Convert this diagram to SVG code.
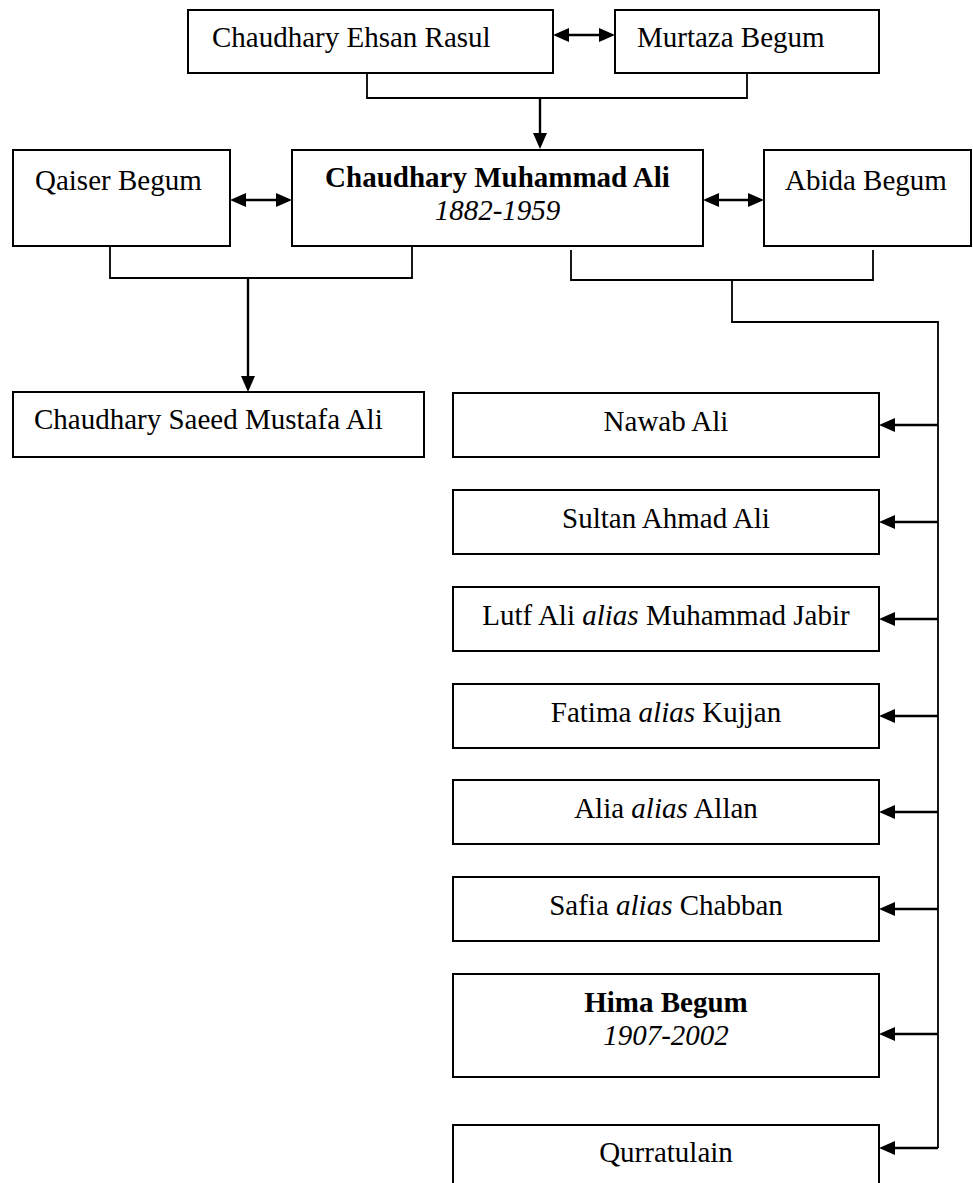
<svg xmlns="http://www.w3.org/2000/svg" width="973" height="1183" viewBox="0 0 973 1183">
  <style>
    .box { fill: #ffffff; stroke: #000000; stroke-width: 2; }
    .t { font-family: "Liberation Serif", "Times New Roman", serif; font-size: 29px; fill: #000000; }
    .c { text-anchor: middle; }
    .b { font-weight: bold; }
    .i { font-style: italic; }
    .link { fill: none; stroke: #000000; stroke-width: 2.4; }
    .bracket { fill: none; stroke: #000000; stroke-width: 1.8; }
  </style>
  <defs>
    <marker id="arrow" markerUnits="userSpaceOnUse" markerWidth="17" markerHeight="15" refX="10" refY="7" orient="auto-start-reverse">
      <path d="M0,0 L16,7 L0,14 z" fill="#000000"/>
    </marker>
  </defs>

  <rect width="973" height="1183" fill="#ffffff"/>

  <!-- connectors -->
  <g id="connectors">
    <!-- spouse links -->
    <line class="link" x1="559" y1="35" x2="609" y2="35" marker-start="url(#arrow)" marker-end="url(#arrow)"/>
    <line class="link" x1="236" y1="200" x2="286" y2="200" marker-start="url(#arrow)" marker-end="url(#arrow)"/>
    <line class="link" x1="709" y1="200" x2="758" y2="200" marker-start="url(#arrow)" marker-end="url(#arrow)"/>

    <!-- parents of Chaudhary Muhammad Ali -->
    <path class="bracket" d="M367,73 V98 H747 V73"/>
    <line class="link" x1="540" y1="98" x2="540" y2="143" marker-end="url(#arrow)"/>

    <!-- Qaiser Begum family -->
    <path class="bracket" d="M110,247 V278 H412 V247"/>
    <line class="link" x1="248" y1="278" x2="248" y2="386" marker-end="url(#arrow)"/>

    <!-- Abida Begum family -->
    <path class="bracket" d="M571,250 V280 H873 V250"/>
    <path class="bracket" d="M732,280 V322 H938 V1148"/>
    <line class="link" x1="938" y1="425" x2="885" y2="425" marker-end="url(#arrow)"/>
    <line class="link" x1="938" y1="522" x2="885" y2="522" marker-end="url(#arrow)"/>
    <line class="link" x1="938" y1="619" x2="885" y2="619" marker-end="url(#arrow)"/>
    <line class="link" x1="938" y1="716" x2="885" y2="716" marker-end="url(#arrow)"/>
    <line class="link" x1="938" y1="812" x2="885" y2="812" marker-end="url(#arrow)"/>
    <line class="link" x1="938" y1="909" x2="885" y2="909" marker-end="url(#arrow)"/>
    <line class="link" x1="938" y1="1034" x2="885" y2="1034" marker-end="url(#arrow)"/>
    <line class="link" x1="938" y1="1148" x2="885" y2="1148" marker-end="url(#arrow)"/>
  </g>

  <!-- nodes -->
  <g id="ehsan-rasul">
    <rect class="box" x="188" y="10" width="365" height="63"/>
    <text class="t" x="212" y="47">Chaudhary Ehsan Rasul</text>
  </g>
  <g id="murtaza-begum">
    <rect class="box" x="615" y="10" width="264" height="63"/>
    <text class="t" x="637" y="47">Murtaza Begum</text>
  </g>

  <g id="qaiser-begum">
    <rect class="box" x="13" y="150" width="217" height="96"/>
    <text class="t" x="35" y="190">Qaiser Begum</text>
  </g>
  <g id="muhammad-ali">
    <rect class="box" x="292" y="150" width="411" height="96"/>
    <text class="t c b" x="497.5" y="187">Chaudhary Muhammad Ali</text>
    <text class="t c i" x="497.5" y="220">1882-1959</text>
  </g>
  <g id="abida-begum">
    <rect class="box" x="764" y="150" width="207" height="96"/>
    <text class="t" x="785" y="190">Abida Begum</text>
  </g>

  <g id="saeed-mustafa-ali">
    <rect class="box" x="13" y="392" width="411" height="65"/>
    <text class="t" x="34" y="429">Chaudhary Saeed Mustafa Ali</text>
  </g>

  <g id="nawab-ali">
    <rect class="box" x="453" y="393" width="426" height="64"/>
    <text class="t c" x="666" y="431">Nawab Ali</text>
  </g>
  <g id="sultan-ahmad-ali">
    <rect class="box" x="453" y="490" width="426" height="64"/>
    <text class="t c" x="666" y="528">Sultan Ahmad Ali</text>
  </g>
  <g id="lutf-ali">
    <rect class="box" x="453" y="587" width="426" height="64"/>
    <text class="t c" x="666" y="625">Lutf Ali <tspan class="i">alias</tspan> Muhammad Jabir</text>
  </g>
  <g id="fatima">
    <rect class="box" x="453" y="684" width="426" height="64"/>
    <text class="t c" x="666" y="722">Fatima <tspan class="i">alias</tspan> Kujjan</text>
  </g>
  <g id="alia">
    <rect class="box" x="453" y="780" width="426" height="64"/>
    <text class="t c" x="666" y="818">Alia <tspan class="i">alias</tspan> Allan</text>
  </g>
  <g id="safia">
    <rect class="box" x="453" y="877" width="426" height="64"/>
    <text class="t c" x="666" y="915">Safia <tspan class="i">alias</tspan> Chabban</text>
  </g>
  <g id="hima-begum">
    <rect class="box" x="453" y="974" width="426" height="103"/>
    <text class="t c b" x="666" y="1012">Hima Begum</text>
    <text class="t c i" x="666" y="1045">1907-2002</text>
  </g>
  <g id="qurratulain">
    <rect class="box" x="453" y="1125" width="426" height="70"/>
    <text class="t c" x="666" y="1162">Qurratulain</text>
  </g>
</svg>
